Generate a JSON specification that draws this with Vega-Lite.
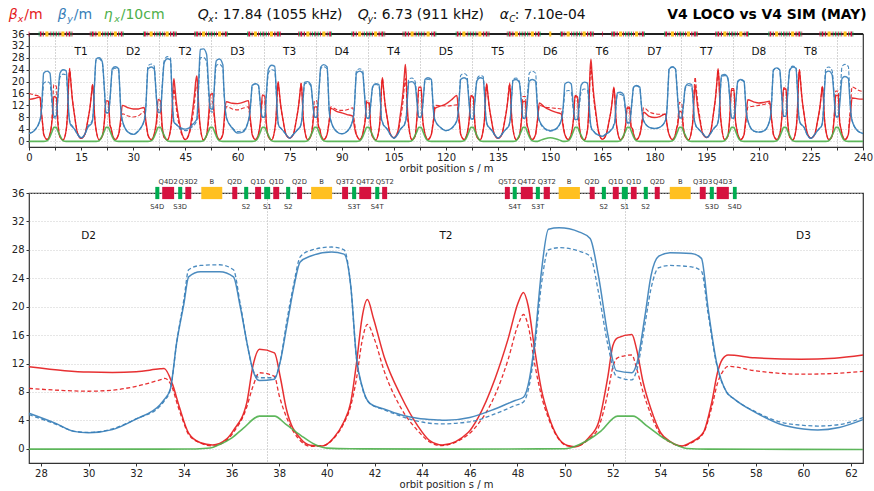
{"$schema":"https://vega.github.io/schema/vega-lite/v6.json","padding":{"left":8,"top":7,"right":0,"bottom":0},"bounds":"flush","spacing":46,"config":{"font":"DejaVu Sans","view":{"stroke":"#333","strokeWidth":1.2}},
"datasets":{
"hi":[{"s":-5.84,"t":"β","c":"bx"},{"s":8.26,"t":"β","c":"by"},{"s":21.5,"t":"η","c":"eta"}],
"hs":[{"s":-3.25,"t":"x","c":"bx"},{"s":11,"t":"y","c":"by"},{"s":24.5,"t":"x","c":"eta"}],
"hn":[{"s":-1.38,"t":"/m","c":"bx"},{"s":12.86,"t":"/m","c":"by"},{"s":26.4,"t":"/10cm","c":"eta"}],
"qi":[{"s":48.55,"t":"Q"},{"s":94.6,"t":"Q"},{"s":135.5,"t":"α"}],
"qs":[{"s":51.57,"t":"x"},{"s":97.5,"t":"y"},{"s":138.2,"t":"C"}],
"qn":[{"s":53.15,"t":": 17.84 (1055 kHz)"},{"s":98.9,"t":": 6.73 (911 kHz)"},{"s":139.8,"t":": 7.10e-04"}],
"cells":[{"s":15,"t":"T1"},{"s":30,"t":"D2"},{"s":45,"t":"T2"},{"s":60,"t":"D3"},{"s":75,"t":"T3"},{"s":90,"t":"D4"},{"s":105,"t":"T4"},{"s":120,"t":"D5"},{"s":135,"t":"T5"},{"s":150,"t":"D6"},{"s":165,"t":"T6"},{"s":180,"t":"D7"},{"s":195,"t":"T7"},{"s":210,"t":"D8"},{"s":225,"t":"T8"}],
"zcells":[{"s":30,"t":"D2"},{"s":45,"t":"T2"},{"s":60,"t":"D3"}],
"tb":[{"a":4.7,"b":5.6},{"a":9.3,"b":10.2},{"a":19.8,"b":20.7},{"a":24.4,"b":25.3},{"a":34.7,"b":35.6},{"a":39.3,"b":40.2},{"a":49.8,"b":50.7},{"a":54.4,"b":55.3},{"a":64.7,"b":65.6},{"a":69.3,"b":70.2},{"a":79.8,"b":80.7},{"a":84.4,"b":85.3},{"a":94.7,"b":95.6},{"a":99.3,"b":100.2},{"a":109.8,"b":110.7},{"a":114.4,"b":115.3},{"a":124.7,"b":125.6},{"a":129.3,"b":130.2},{"a":139.8,"b":140.7},{"a":144.4,"b":145.3},{"a":149.7,"b":150.3},{"a":154.7,"b":155.6},{"a":159.3,"b":160.2},{"a":169.8,"b":170.7},{"a":174.4,"b":175.3},{"a":184.7,"b":185.6},{"a":189.3,"b":190.2},{"a":199.8,"b":200.7},{"a":204.4,"b":205.3},{"a":214.7,"b":215.6},{"a":219.3,"b":220.2},{"a":229.8,"b":230.7},{"a":234.4,"b":235.3}],
"ts":[{"a":2.8,"b":3},{"a":3.8,"b":3.9},{"a":6.5,"b":6.7},{"a":7.4,"b":7.6},{"a":8.3,"b":8.5},{"a":11.1,"b":11.2},{"a":12,"b":12.2},{"a":17.8,"b":18},{"a":18.8,"b":18.9},{"a":21.5,"b":21.7},{"a":22.4,"b":22.6},{"a":23.3,"b":23.5},{"a":26.1,"b":26.2},{"a":27,"b":27.2},{"a":32.8,"b":33},{"a":33.8,"b":33.9},{"a":36.5,"b":36.7},{"a":37.4,"b":37.6},{"a":38.3,"b":38.5},{"a":41.1,"b":41.2},{"a":42,"b":42.2},{"a":47.8,"b":48},{"a":48.8,"b":48.9},{"a":51.5,"b":51.7},{"a":52.4,"b":52.6},{"a":53.3,"b":53.5},{"a":56.1,"b":56.2},{"a":57,"b":57.2},{"a":62.8,"b":63},{"a":63.8,"b":63.9},{"a":66.5,"b":66.7},{"a":67.4,"b":67.6},{"a":68.3,"b":68.5},{"a":71.1,"b":71.2},{"a":72,"b":72.2},{"a":77.8,"b":78},{"a":78.8,"b":78.9},{"a":81.5,"b":81.7},{"a":82.4,"b":82.6},{"a":83.3,"b":83.5},{"a":86.1,"b":86.2},{"a":87,"b":87.2},{"a":92.8,"b":93},{"a":93.8,"b":93.9},{"a":96.5,"b":96.7},{"a":97.4,"b":97.6},{"a":98.3,"b":98.5},{"a":101.1,"b":101.2},{"a":102,"b":102.2},{"a":107.8,"b":108},{"a":108.8,"b":108.9},{"a":111.5,"b":111.7},{"a":112.4,"b":112.6},{"a":113.3,"b":113.5},{"a":116.1,"b":116.2},{"a":117,"b":117.2},{"a":122.8,"b":123},{"a":123.8,"b":123.9},{"a":126.5,"b":126.7},{"a":127.4,"b":127.6},{"a":128.3,"b":128.5},{"a":131.1,"b":131.2},{"a":132,"b":132.2},{"a":137.8,"b":138},{"a":138.8,"b":138.9},{"a":141.5,"b":141.7},{"a":142.4,"b":142.6},{"a":143.3,"b":143.5},{"a":146.1,"b":146.2},{"a":147,"b":147.2},{"a":152.8,"b":153},{"a":153.8,"b":153.9},{"a":156.5,"b":156.7},{"a":157.4,"b":157.6},{"a":158.3,"b":158.5},{"a":161.1,"b":161.2},{"a":162,"b":162.2},{"a":167.8,"b":168},{"a":168.8,"b":168.9},{"a":171.5,"b":171.7},{"a":172.4,"b":172.6},{"a":173.3,"b":173.5},{"a":176.1,"b":176.2},{"a":177,"b":177.2},{"a":182.8,"b":183},{"a":183.8,"b":183.9},{"a":186.5,"b":186.7},{"a":187.4,"b":187.6},{"a":188.3,"b":188.5},{"a":191.1,"b":191.2},{"a":192,"b":192.2},{"a":197.8,"b":198},{"a":198.8,"b":198.9},{"a":201.5,"b":201.7},{"a":202.4,"b":202.6},{"a":203.3,"b":203.5},{"a":206.1,"b":206.2},{"a":207,"b":207.2},{"a":212.8,"b":213},{"a":213.8,"b":213.9},{"a":216.5,"b":216.7},{"a":217.4,"b":217.6},{"a":218.3,"b":218.5},{"a":221.1,"b":221.2},{"a":222,"b":222.2},{"a":227.8,"b":228},{"a":228.8,"b":228.9},{"a":231.5,"b":231.7},{"a":232.4,"b":232.6},{"a":233.3,"b":233.5},{"a":236.1,"b":236.2},{"a":237,"b":237.2}],
"tq":[{"a":-0.1,"b":0.1},{"a":3.1,"b":3.6},{"a":4.1,"b":4.3},{"a":6,"b":6.2},{"a":7,"b":7.2},{"a":7.8,"b":8},{"a":8.8,"b":9},{"a":10.6,"b":10.9},{"a":11.4,"b":11.9},{"a":12.3,"b":12.5},{"a":17.5,"b":17.7},{"a":18.1,"b":18.6},{"a":19.1,"b":19.4},{"a":21,"b":21.2},{"a":22,"b":22.2},{"a":22.8,"b":23},{"a":23.8,"b":24},{"a":25.7,"b":25.9},{"a":26.4,"b":26.9},{"a":33.1,"b":33.6},{"a":34.1,"b":34.3},{"a":36,"b":36.2},{"a":37,"b":37.2},{"a":37.8,"b":38},{"a":38.8,"b":39},{"a":40.6,"b":40.9},{"a":41.4,"b":41.9},{"a":42.3,"b":42.5},{"a":47.5,"b":47.7},{"a":48.1,"b":48.6},{"a":49.1,"b":49.4},{"a":51,"b":51.2},{"a":52,"b":52.2},{"a":52.8,"b":53},{"a":53.8,"b":54},{"a":55.7,"b":55.9},{"a":56.4,"b":56.9},{"a":63.1,"b":63.6},{"a":64.1,"b":64.3},{"a":66,"b":66.2},{"a":67,"b":67.2},{"a":67.8,"b":68},{"a":68.8,"b":69},{"a":70.6,"b":70.9},{"a":71.4,"b":71.9},{"a":72.3,"b":72.5},{"a":77.5,"b":77.7},{"a":78.1,"b":78.6},{"a":79.1,"b":79.4},{"a":81,"b":81.2},{"a":82,"b":82.2},{"a":82.8,"b":83},{"a":83.8,"b":84},{"a":85.7,"b":85.9},{"a":86.4,"b":86.9},{"a":93.1,"b":93.6},{"a":94.1,"b":94.3},{"a":96,"b":96.2},{"a":97,"b":97.2},{"a":97.8,"b":98},{"a":98.8,"b":99},{"a":100.6,"b":100.9},{"a":101.4,"b":101.9},{"a":102.3,"b":102.5},{"a":107.5,"b":107.7},{"a":108.1,"b":108.6},{"a":109.1,"b":109.4},{"a":111,"b":111.2},{"a":112,"b":112.2},{"a":112.8,"b":113},{"a":113.8,"b":114},{"a":115.7,"b":115.9},{"a":116.4,"b":116.9},{"a":123.1,"b":123.6},{"a":124.1,"b":124.3},{"a":126,"b":126.2},{"a":127,"b":127.2},{"a":127.8,"b":128},{"a":128.8,"b":129},{"a":130.6,"b":130.9},{"a":131.4,"b":131.9},{"a":132.3,"b":132.5},{"a":137.5,"b":137.7},{"a":138.1,"b":138.6},{"a":139.1,"b":139.4},{"a":141,"b":141.2},{"a":142,"b":142.2},{"a":142.8,"b":143},{"a":143.8,"b":144},{"a":145.7,"b":145.9},{"a":146.4,"b":146.9},{"a":153.1,"b":153.6},{"a":154.1,"b":154.3},{"a":156,"b":156.2},{"a":157,"b":157.2},{"a":157.8,"b":158},{"a":158.8,"b":159},{"a":160.6,"b":160.9},{"a":161.4,"b":161.9},{"a":162.3,"b":162.5},{"a":164.9,"b":165.1},{"a":167.5,"b":167.7},{"a":168.1,"b":168.6},{"a":169.1,"b":169.4},{"a":171,"b":171.2},{"a":172,"b":172.2},{"a":172.8,"b":173},{"a":173.8,"b":174},{"a":175.7,"b":175.9},{"a":176.4,"b":176.9},{"a":183.1,"b":183.6},{"a":184.1,"b":184.3},{"a":186,"b":186.2},{"a":187,"b":187.2},{"a":187.8,"b":188},{"a":188.8,"b":189},{"a":190.6,"b":190.9},{"a":191.4,"b":191.9},{"a":192.3,"b":192.5},{"a":197.5,"b":197.7},{"a":198.1,"b":198.6},{"a":199.1,"b":199.4},{"a":201,"b":201.2},{"a":202,"b":202.2},{"a":202.8,"b":203},{"a":203.8,"b":204},{"a":205.7,"b":205.9},{"a":206.4,"b":206.9},{"a":213.1,"b":213.6},{"a":214.1,"b":214.3},{"a":216,"b":216.2},{"a":217,"b":217.2},{"a":217.8,"b":218},{"a":218.8,"b":219},{"a":220.6,"b":220.9},{"a":221.4,"b":221.9},{"a":222.3,"b":222.5},{"a":227.5,"b":227.7},{"a":228.1,"b":228.6},{"a":229.1,"b":229.4},{"a":231,"b":231.2},{"a":232,"b":232.2},{"a":232.8,"b":233},{"a":233.8,"b":234},{"a":235.7,"b":235.9},{"a":236.4,"b":236.9}],
"lat":[{"a":32.8,"b":32.97,"c":32.88,"k":"S","n":"S4D"},{"a":33.09,"b":33.59,"c":33.34,"k":"Q","n":"Q4D2"},{"a":33.76,"b":33.93,"c":33.84,"k":"S","n":"S3D"},{"a":34.06,"b":34.31,"c":34.18,"k":"Q","n":"Q3D2"},{"a":34.73,"b":35.61,"c":35.17,"k":"B","n":"B"},{"a":36.03,"b":36.24,"c":36.13,"k":"Q","n":"Q2D"},{"a":36.53,"b":36.7,"c":36.61,"k":"S","n":"S2"},{"a":36.99,"b":37.24,"c":37.11,"k":"Q","n":"Q1D"},{"a":37.37,"b":37.62,"c":37.5,"k":"S","n":"S1"},{"a":37.75,"b":38,"c":37.88,"k":"Q","n":"Q1D"},{"a":38.29,"b":38.46,"c":38.38,"k":"S","n":"S2"},{"a":38.75,"b":38.96,"c":38.85,"k":"Q","n":"Q2D"},{"a":39.34,"b":40.22,"c":39.78,"k":"B","n":"B"},{"a":40.64,"b":40.89,"c":40.76,"k":"Q","n":"Q3T2"},{"a":41.06,"b":41.23,"c":41.14,"k":"S","n":"S3T"},{"a":41.36,"b":41.86,"c":41.61,"k":"Q","n":"Q4T2"},{"a":42.03,"b":42.2,"c":42.11,"k":"S","n":"S4T"},{"a":42.32,"b":42.53,"c":42.43,"k":"Q","n":"Q5T2"},{"a":47.47,"b":47.68,"c":47.57,"k":"Q","n":"Q5T2"},{"a":47.8,"b":47.97,"c":47.89,"k":"S","n":"S4T"},{"a":48.14,"b":48.64,"c":48.39,"k":"Q","n":"Q4T2"},{"a":48.77,"b":48.94,"c":48.86,"k":"S","n":"S3T"},{"a":49.1,"b":49.36,"c":49.23,"k":"Q","n":"Q3T2"},{"a":49.73,"b":50.62,"c":50.17,"k":"B","n":"B"},{"a":51.03,"b":51.24,"c":51.13,"k":"Q","n":"Q2D"},{"a":51.54,"b":51.71,"c":51.62,"k":"S","n":"S2"},{"a":52,"b":52.25,"c":52.12,"k":"Q","n":"Q1D"},{"a":52.38,"b":52.63,"c":52.5,"k":"S","n":"S1"},{"a":52.76,"b":53,"c":52.88,"k":"Q","n":"Q1D"},{"a":53.3,"b":53.47,"c":53.38,"k":"S","n":"S2"},{"a":53.76,"b":53.97,"c":53.87,"k":"Q","n":"Q2D"},{"a":54.39,"b":55.27,"c":54.83,"k":"B","n":"B"},{"a":55.65,"b":55.9,"c":55.77,"k":"Q","n":"Q3D3"},{"a":56.07,"b":56.24,"c":56.16,"k":"S","n":"S3D"},{"a":56.36,"b":56.87,"c":56.61,"k":"Q","n":"Q4D3"},{"a":57.04,"b":57.2,"c":57.12,"k":"S","n":"S4D"}],
"z1":[{"s":27.5,"v":11.55},{"s":29,"v":11},{"s":30,"v":10.8},{"s":31,"v":10.75},{"s":32,"v":10.85},{"s":33,"v":11.25},{"s":33.17,"v":11.3},{"s":33.52,"v":9.1},{"s":33.8,"v":6},{"s":34.2,"v":2.2},{"s":34.7,"v":0.85},{"s":35.2,"v":0.55},{"s":35.8,"v":1.4},{"s":36.08,"v":2.6},{"s":36.64,"v":6.5},{"s":36.9,"v":11.7},{"s":37.17,"v":14},{"s":37.8,"v":13.5},{"s":38.05,"v":10},{"s":38.3,"v":5.6},{"s":38.9,"v":1.4},{"s":39.3,"v":0.5},{"s":39.8,"v":0.4},{"s":40.3,"v":1.6},{"s":40.7,"v":3.7},{"s":41,"v":6.5},{"s":41.25,"v":12.2},{"s":41.47,"v":18.3},{"s":41.7,"v":21},{"s":41.96,"v":18.3},{"s":42.4,"v":13},{"s":43.1,"v":7.5},{"s":43.8,"v":3.3},{"s":44.3,"v":1.2},{"s":44.85,"v":0.55},{"s":45.93,"v":2.3},{"s":46.35,"v":4.4},{"s":47.05,"v":9.8},{"s":47.6,"v":15.4},{"s":48.03,"v":20.6},{"s":48.25,"v":22},{"s":48.45,"v":20.1},{"s":48.72,"v":14},{"s":49,"v":8.4},{"s":49.3,"v":4.7},{"s":49.7,"v":1.6},{"s":50.1,"v":0.45},{"s":50.4,"v":0.3},{"s":51,"v":1.6},{"s":51.4,"v":3.7},{"s":51.8,"v":10.3},{"s":52,"v":14.5},{"s":52.2,"v":15.6},{"s":52.8,"v":16.1},{"s":53,"v":14},{"s":53.27,"v":9.4},{"s":53.6,"v":5.6},{"s":54,"v":2.3},{"s":54.45,"v":0.95},{"s":54.9,"v":0.4},{"s":55.3,"v":0.95},{"s":55.8,"v":2.3},{"s":56.15,"v":6.5},{"s":56.4,"v":10.8},{"s":56.6,"v":12.6},{"s":56.84,"v":13.2},{"s":57.95,"v":12.8},{"s":59.9,"v":12.6},{"s":61.3,"v":12.75},{"s":62.5,"v":13.2}],
"z2":[{"s":27.5,"v":8.5},{"s":29,"v":8.2},{"s":30,"v":8.1},{"s":31,"v":8.25},{"s":32,"v":8.8},{"s":33,"v":9.7},{"s":33.2,"v":9.9},{"s":33.5,"v":8.7},{"s":33.75,"v":6},{"s":34,"v":3.6},{"s":34.2,"v":2},{"s":34.7,"v":0.8},{"s":35.2,"v":0.4},{"s":35.8,"v":1.2},{"s":36.1,"v":2.4},{"s":36.6,"v":5.5},{"s":36.9,"v":8.8},{"s":37.17,"v":10.7},{"s":37.8,"v":10.2},{"s":38,"v":7.5},{"s":38.3,"v":4.5},{"s":38.9,"v":1.1},{"s":39.3,"v":0.35},{"s":39.8,"v":0.4},{"s":40.3,"v":1.5},{"s":40.7,"v":3.5},{"s":41,"v":6},{"s":41.25,"v":10},{"s":41.47,"v":15},{"s":41.7,"v":17.5},{"s":42,"v":15.4},{"s":42.4,"v":11},{"s":43.1,"v":5.8},{"s":43.8,"v":2.6},{"s":44.3,"v":1},{"s":44.75,"v":0.45},{"s":45.93,"v":2},{"s":46.35,"v":3.5},{"s":47.05,"v":7.5},{"s":47.6,"v":12.5},{"s":48.03,"v":17.5},{"s":48.25,"v":18.9},{"s":48.45,"v":17.3},{"s":48.72,"v":12},{"s":49,"v":7.5},{"s":49.3,"v":4.3},{"s":49.7,"v":1.5},{"s":50.1,"v":0.4},{"s":50.4,"v":0.3},{"s":51,"v":1.4},{"s":51.4,"v":3},{"s":51.8,"v":8},{"s":52,"v":11.5},{"s":52.2,"v":12.8},{"s":52.8,"v":13.2},{"s":53,"v":11.3},{"s":53.27,"v":8},{"s":53.6,"v":4.8},{"s":54,"v":2},{"s":54.45,"v":0.85},{"s":54.9,"v":0.35},{"s":55.3,"v":0.85},{"s":55.8,"v":2.2},{"s":56.15,"v":5.8},{"s":56.4,"v":9.3},{"s":56.6,"v":10.8},{"s":56.84,"v":11.6},{"s":57.95,"v":11},{"s":59.9,"v":10.5},{"s":61.3,"v":10.6},{"s":62.5,"v":10.9}],
"z3":[{"s":27.5,"v":5},{"s":28.67,"v":3.5},{"s":29.37,"v":2.45},{"s":30,"v":2.25},{"s":31,"v":2.7},{"s":32,"v":4.2},{"s":33,"v":6.2},{"s":33.17,"v":6.9},{"s":33.43,"v":8.4},{"s":33.7,"v":15},{"s":34,"v":20.4},{"s":34.2,"v":24.2},{"s":34.7,"v":24.9},{"s":35.5,"v":24.9},{"s":36.08,"v":24.2},{"s":36.36,"v":20.1},{"s":36.7,"v":14},{"s":36.92,"v":10.8},{"s":37.17,"v":9.6},{"s":37.8,"v":9.8},{"s":38.04,"v":12.2},{"s":38.32,"v":17.3},{"s":38.6,"v":22.5},{"s":38.88,"v":26.3},{"s":39.3,"v":27.1},{"s":40.2,"v":27.7},{"s":40.72,"v":27.4},{"s":41,"v":23},{"s":41.25,"v":12.6},{"s":41.47,"v":8.9},{"s":41.8,"v":6.4},{"s":42.4,"v":5.6},{"s":43.1,"v":4.8},{"s":43.8,"v":4.3},{"s":44.75,"v":4.05},{"s":45,"v":4},{"s":46,"v":4.4},{"s":47.05,"v":5.6},{"s":47.9,"v":6.8},{"s":48.25,"v":7.25},{"s":48.5,"v":9.8},{"s":48.72,"v":15},{"s":49,"v":24.8},{"s":49.3,"v":30.9},{"s":49.75,"v":31.1},{"s":50.6,"v":30.5},{"s":51.05,"v":29.6},{"s":51.4,"v":24.3},{"s":51.8,"v":15.9},{"s":52.15,"v":11},{"s":52.8,"v":10.7},{"s":53,"v":11.9},{"s":53.35,"v":18.7},{"s":53.6,"v":24.3},{"s":53.93,"v":27.1},{"s":54.4,"v":27.6},{"s":55.3,"v":27.5},{"s":55.72,"v":26.8},{"s":56,"v":19.7},{"s":56.35,"v":12.2},{"s":56.77,"v":8},{"s":57.1,"v":7},{"s":58,"v":5.1},{"s":59,"v":3.5},{"s":60,"v":2.8},{"s":60.6,"v":2.65},{"s":61.5,"v":3},{"s":62.5,"v":4.1}],
"z4":[{"s":27.5,"v":4.8},{"s":28.67,"v":3.4},{"s":29.37,"v":2.5},{"s":30,"v":2.3},{"s":31,"v":2.8},{"s":32,"v":4.2},{"s":33,"v":6},{"s":33.17,"v":6.7},{"s":33.43,"v":8.3},{"s":33.7,"v":15},{"s":34,"v":21},{"s":34.2,"v":25.2},{"s":34.7,"v":25.8},{"s":35.5,"v":25.9},{"s":36.08,"v":25.2},{"s":36.36,"v":20.5},{"s":36.7,"v":14},{"s":36.92,"v":10.9},{"s":37.17,"v":10},{"s":37.8,"v":10},{"s":38.04,"v":12.3},{"s":38.32,"v":18},{"s":38.6,"v":23},{"s":38.88,"v":27},{"s":39.3,"v":27.9},{"s":40.2,"v":28.4},{"s":40.72,"v":28},{"s":41,"v":23},{"s":41.25,"v":12.5},{"s":41.47,"v":8.8},{"s":41.8,"v":6.4},{"s":42.4,"v":5.5},{"s":43.1,"v":4.6},{"s":43.8,"v":3.9},{"s":44.75,"v":3.5},{"s":46,"v":3.8},{"s":47.05,"v":4.9},{"s":47.9,"v":6.1},{"s":48.25,"v":6.6},{"s":48.5,"v":9},{"s":48.72,"v":14},{"s":49,"v":23},{"s":49.3,"v":28},{"s":49.75,"v":28.3},{"s":50.6,"v":27.8},{"s":51.05,"v":27.1},{"s":51.4,"v":22},{"s":51.8,"v":14.5},{"s":52.15,"v":10.2},{"s":52.8,"v":9.7},{"s":53,"v":11},{"s":53.35,"v":17.5},{"s":53.6,"v":22.5},{"s":53.93,"v":25.5},{"s":54.4,"v":25.8},{"s":55.3,"v":25.6},{"s":55.72,"v":25},{"s":56,"v":19},{"s":56.35,"v":12},{"s":56.77,"v":8},{"s":57.1,"v":7},{"s":58,"v":5.2},{"s":59,"v":3.8},{"s":60,"v":3.3},{"s":60.6,"v":3.2},{"s":61.5,"v":3.4},{"s":62.5,"v":4.4}],
"z5":[{"s":27.5,"v":-0.05},{"s":33,"v":-0.05},{"s":34.5,"v":-0.02},{"s":35.1,"v":0.1},{"s":35.5,"v":0.6},{"s":36,"v":1.5},{"s":36.5,"v":2.9},{"s":37.17,"v":4.6},{"s":37.8,"v":4.6},{"s":38.3,"v":3.4},{"s":38.9,"v":1.9},{"s":39.5,"v":0.6},{"s":40,"v":0.1},{"s":41,"v":0},{"s":45,"v":-0.05},{"s":50,"v":0},{"s":50.2,"v":0.1},{"s":50.6,"v":0.6},{"s":51,"v":1.3},{"s":51.5,"v":2.5},{"s":52.2,"v":4.6},{"s":52.85,"v":4.6},{"s":53.4,"v":3.3},{"s":54,"v":1.8},{"s":54.5,"v":0.8},{"s":55.1,"v":0.05},{"s":56,"v":-0.05},{"s":62.5,"v":-0.1}],
"top":[
{"s":0,"a":14,"b":16,"c":2.6,"d":2.5,"e":-0.1},{"s":1.5,"a":14.3,"b":15.5,"c":3.5,"d":3.5,"e":-0.1},{"s":3.15,"a":14.8,"b":15,"c":6.9,"d":7,"e":-0.1},{"s":3.6,"a":9.2,"b":9.2,"c":11,"d":10,"e":-0.1},{"s":4,"a":4.9,"b":4.9,"c":19.3,"d":16.4,"e":-0.1},{"s":4.2,"a":2.4,"b":2.4,"c":22.8,"d":19.4,"e":-0.1},{"s":5.2,"a":0.5,"b":0.5,"c":23.5,"d":20,"e":0.1},{"s":6.05,"a":2.4,"b":2.4,"c":22.8,"d":19.4,"e":1.5},{"s":6.35,"a":4.2,"b":4.2,"c":18.8,"d":16,"e":2.4},{"s":6.7,"a":7.5,"b":9.5,"c":13.2,"d":11.2,"e":3.4},{"s":7.15,"a":15,"b":19,"c":8.3,"d":7.8,"e":4.6},{"s":7.85,"a":14.6,"b":18.4,"c":8.3,"d":7.8,"e":4.6},{"s":8.3,"a":6,"b":7.6,"c":14.9,"d":14,"e":3.4},{"s":8.9,"a":1.4,"b":1.5,"c":22.8,"d":21.4,"e":1.9},{"s":9.8,"a":0.4,"b":0.4,"c":24,"d":22.5,"e":0.1},{"s":10.7,"a":3.7,"b":3.7,"c":23.6,"d":22.2,"e":-0.1},{"s":11.1,"a":9.6,"b":9.8,"c":17.3,"d":16.2,"e":-0.1},{"s":11.47,"a":20.9,"b":21.3,"c":9,"d":8.8,"e":-0.1},{"s":11.7,"a":24,"b":24.5,"c":6.5,"d":6.9,"e":-0.1},{"s":11.96,"a":20.9,"b":21.3,"c":5.5,"d":6,"e":-0.1},{"s":12.4,"a":14.9,"b":15.2,"c":4.9,"d":5.2,"e":-0.1},{"s":13.1,"a":8.6,"b":8.8,"c":4,"d":4.1,"e":-0.1},{"s":13.9,"a":2.9,"b":3,"c":2.4,"d":2.4,"e":-0.1},
{"s":15,"a":0.9,"b":0.9,"c":1.1,"d":1,"e":-0.1},{"s":16.1,"a":2.3,"b":2.3,"c":2.4,"d":2.3,"e":-0.1},{"s":16.9,"a":6.8,"b":6.8,"c":4.5,"d":5,"e":-0.1},{"s":17.6,"a":11.8,"b":11.8,"c":5.4,"d":5.9,"e":-0.1},{"s":18.04,"a":16.5,"b":16.5,"c":6,"d":6.5,"e":-0.1},{"s":18.3,"a":19,"b":19,"c":7,"d":7.5,"e":-0.1},{"s":18.53,"a":16.5,"b":16.5,"c":10.4,"d":10.2,"e":-0.1},{"s":18.9,"a":8,"b":8,"c":20.2,"d":19.9,"e":-0.1},{"s":19.3,"a":3.8,"b":3.8,"c":27.6,"d":27.2,"e":-0.1},{"s":20.2,"a":0.45,"b":0.45,"c":28,"d":27.6,"e":0.1},{"s":21.1,"a":1.6,"b":1.6,"c":26.6,"d":26.2,"e":1.9},{"s":21.7,"a":6.8,"b":6.6,"c":17.4,"d":17.1,"e":3.4},{"s":22.15,"a":13.5,"b":13.2,"c":9.5,"d":9.5,"e":4.6},{"s":22.85,"a":13.5,"b":13.2,"c":9.5,"d":9.5,"e":4.6},{"s":23.3,"a":5.4,"b":5.3,"c":14,"d":13.7,"e":3.4},{"s":23.65,"a":4.2,"b":4.2,"c":20,"d":19.6,"e":2.4},{"s":23.95,"a":2.4,"b":2.4,"c":24.3,"d":23.8,"e":1.5},{"s":24.8,"a":0.5,"b":0.5,"c":25,"d":24.5,"e":0.1},{"s":25.8,"a":2.3,"b":2.3,"c":24.3,"d":23.8,"e":-0.1},{"s":26,"a":4,"b":3,"c":20.5,"d":20.1,"e":-0.1},{"s":26.4,"a":7.4,"b":5.7,"c":11,"d":11,"e":-0.1},{"s":26.85,"a":12,"b":9.2,"c":6.9,"d":6.9,"e":-0.1},{"s":28.5,"a":11.2,"b":8.4,"c":3,"d":3,"e":-0.1},
{"s":30,"a":10.8,"b":8.1,"c":2.25,"d":2.3,"e":-0.1},{"s":31.5,"a":10.8,"b":8.5,"c":3.4,"d":3.5,"e":-0.1},{"s":33.15,"a":11.3,"b":9.9,"c":6.9,"d":6.8,"e":-0.1},{"s":33.6,"a":7,"b":6,"c":11,"d":11,"e":-0.1},{"s":34,"a":3.8,"b":3.4,"c":20.4,"d":21,"e":-0.1},{"s":34.2,"a":2.2,"b":2,"c":24.2,"d":25.2,"e":-0.1},{"s":35.2,"a":0.5,"b":0.4,"c":24.9,"d":25.9,"e":0.1},{"s":36.05,"a":2.4,"b":2.2,"c":24.2,"d":25.2,"e":1.5},{"s":36.35,"a":4.2,"b":3.8,"c":20.1,"d":20.5,"e":2.4},{"s":36.7,"a":7,"b":5.4,"c":14,"d":14,"e":3.4},{"s":37.15,"a":14,"b":10.7,"c":9.6,"d":10,"e":4.6},{"s":37.85,"a":13.5,"b":10.2,"c":9.8,"d":10,"e":4.6},{"s":38.3,"a":5.6,"b":4.5,"c":17.3,"d":18,"e":3.4},{"s":38.9,"a":1.4,"b":1.1,"c":26.3,"d":27,"e":1.9},{"s":39.8,"a":0.4,"b":0.4,"c":27.7,"d":28.4,"e":0.1},{"s":40.7,"a":3.7,"b":3.5,"c":27.3,"d":28,"e":-0.1},{"s":41.1,"a":8.4,"b":7,"c":17.6,"d":17,"e":-0.1},{"s":41.47,"a":18.3,"b":15,"c":8.9,"d":8.8,"e":-0.1},{"s":41.7,"a":21,"b":17.5,"c":6.4,"d":6.4,"e":-0.1},{"s":41.96,"a":18.3,"b":15.4,"c":6,"d":6,"e":-0.1},{"s":42.4,"a":13,"b":11,"c":5.6,"d":5.5,"e":-0.1},{"s":43.1,"a":7.5,"b":5.8,"c":4.8,"d":4.6,"e":-0.1},{"s":43.9,"a":3,"b":2.4,"c":4.3,"d":3.8,"e":-0.1},
{"s":45,"a":0.5,"b":0.45,"c":4,"d":3.5,"e":-0.1},{"s":46.1,"a":2.7,"b":2.3,"c":4.4,"d":3.9,"e":-0.1},{"s":46.9,"a":8.6,"b":6.6,"c":5.4,"d":4.7,"e":-0.1},{"s":47.6,"a":15.4,"b":12.5,"c":6.2,"d":5.4,"e":-0.1},{"s":48.04,"a":20.6,"b":17.6,"c":6.9,"d":6.2,"e":-0.1},{"s":48.3,"a":21.9,"b":18.8,"c":7.4,"d":6.7,"e":-0.1},{"s":48.53,"a":19,"b":16.3,"c":11.5,"d":10,"e":-0.1},{"s":48.9,"a":10,"b":9,"c":22,"d":20,"e":-0.1},{"s":49.3,"a":4.7,"b":4.3,"c":30.8,"d":28,"e":-0.1},{"s":50.2,"a":0.4,"b":0.35,"c":31,"d":28.1,"e":0.1},{"s":51.1,"a":2,"b":1.8,"c":29.2,"d":26.8,"e":1.9},{"s":51.7,"a":8.6,"b":6.8,"c":18,"d":16,"e":3.4},{"s":52.15,"a":15.4,"b":12.7,"c":11,"d":10.2,"e":4.6},{"s":52.85,"a":16,"b":13.2,"c":10.7,"d":9.7,"e":4.6},{"s":53.3,"a":9.2,"b":8,"c":17.5,"d":16.5,"e":3.4},{"s":53.65,"a":5.2,"b":4.5,"c":25,"d":23.2,"e":2.4},{"s":53.95,"a":2.5,"b":2.2,"c":27.1,"d":25.5,"e":1.5},{"s":54.8,"a":0.5,"b":0.45,"c":27.6,"d":25.8,"e":0.1},{"s":55.8,"a":2.3,"b":2.2,"c":25.6,"d":24.5,"e":-0.1},{"s":56,"a":4.8,"b":3.8,"c":19.7,"d":19,"e":-0.1},{"s":56.4,"a":10.8,"b":9,"c":11.8,"d":11.6,"e":-0.1},{"s":56.85,"a":13.2,"b":11.6,"c":7.7,"d":7.7,"e":-0.1},{"s":58.5,"a":12.7,"b":10.8,"c":4.3,"d":4.5,"e":-0.1},
{"s":60,"a":12.6,"b":10.5,"c":2.7,"d":3.2,"e":-0.1},{"s":61.5,"a":13,"b":11,"c":3,"d":3.4,"e":-0.1},{"s":63.15,"a":13.6,"b":11.5,"c":6.9,"d":6.9,"e":-0.1},{"s":63.6,"a":8.4,"b":7.1,"c":10,"d":10,"e":-0.1},{"s":64,"a":4.5,"b":3.8,"c":15.8,"d":15.7,"e":-0.1},{"s":64.2,"a":2.3,"b":2.3,"c":18.7,"d":18.6,"e":-0.1},{"s":65.2,"a":0.5,"b":0.5,"c":19.3,"d":19.2,"e":0.1},{"s":66.05,"a":2.4,"b":2.4,"c":18.7,"d":18.6,"e":1.5},{"s":66.35,"a":4.2,"b":4.2,"c":15.4,"d":15.4,"e":2.4},{"s":66.7,"a":7.8,"b":6.8,"c":10.8,"d":10.8,"e":3.4},{"s":67.15,"a":15.5,"b":13.5,"c":8,"d":8,"e":4.6},{"s":67.85,"a":15,"b":13.1,"c":8,"d":8,"e":4.6},{"s":68.3,"a":6.2,"b":5.4,"c":15.8,"d":14.9,"e":3.4},{"s":68.9,"a":1.4,"b":1.4,"c":24.2,"d":22.8,"e":1.9},{"s":69.8,"a":0.4,"b":0.4,"c":25.5,"d":24,"e":0.1},{"s":70.7,"a":3.7,"b":3.7,"c":25.1,"d":23.6,"e":-0.1},{"s":71.1,"a":8,"b":7.8,"c":18.4,"d":17.3,"e":-0.1},{"s":71.47,"a":17.4,"b":17,"c":9.4,"d":8.9,"e":-0.1},{"s":71.7,"a":20,"b":19.5,"c":6,"d":6,"e":-0.1},{"s":71.96,"a":17.4,"b":17,"c":5,"d":5,"e":-0.1},{"s":72.4,"a":12.4,"b":12.1,"c":4.4,"d":4.4,"e":-0.1},{"s":73.1,"a":7.2,"b":7,"c":3.5,"d":3.5,"e":-0.1},{"s":73.9,"a":2.4,"b":2.3,"c":2.3,"d":2.3,"e":-0.1},
{"s":75,"a":1,"b":1,"c":1,"d":1,"e":-0.1},{"s":76.1,"a":2.3,"b":2.3,"c":2.3,"d":2.3,"e":-0.1},{"s":76.9,"a":6.9,"b":7,"c":3.3,"d":3.3,"e":-0.1},{"s":77.6,"a":12,"b":12.1,"c":4.2,"d":4.2,"e":-0.1},{"s":78.04,"a":16.8,"b":17,"c":4.8,"d":4.8,"e":-0.1},{"s":78.3,"a":19.3,"b":19.5,"c":5.8,"d":5.8,"e":-0.1},{"s":78.53,"a":16.8,"b":17,"c":7.4,"d":7.2,"e":-0.1},{"s":78.9,"a":8.1,"b":8.2,"c":14.4,"d":14,"e":-0.1},{"s":79.3,"a":3.9,"b":3.9,"c":19.7,"d":19.2,"e":-0.1},{"s":80.2,"a":0.45,"b":0.45,"c":20,"d":19.5,"e":0.1},{"s":81.1,"a":1.6,"b":1.6,"c":19,"d":18.5,"e":1.9},{"s":81.7,"a":5.8,"b":6.8,"c":12.4,"d":12.1,"e":3.4},{"s":82.15,"a":11.5,"b":13.5,"c":8,"d":8,"e":4.6},{"s":82.85,"a":11.5,"b":13.5,"c":8,"d":8,"e":4.6},{"s":83.3,"a":4.6,"b":5.4,"c":14.4,"d":14,"e":3.4},{"s":83.65,"a":4.2,"b":4.2,"c":20.6,"d":20,"e":2.4},{"s":83.95,"a":2.4,"b":2.4,"c":24.9,"d":24.3,"e":1.5},{"s":84.8,"a":0.5,"b":0.5,"c":25.7,"d":25,"e":0.1},{"s":85.8,"a":2.3,"b":2.3,"c":24.9,"d":24.3,"e":-0.1},{"s":86,"a":3.6,"b":3.8,"c":21.1,"d":20.5,"e":-0.1},{"s":86.4,"a":6.8,"b":7.1,"c":10,"d":10,"e":-0.1},{"s":86.85,"a":11,"b":11.5,"c":6.9,"d":6.9,"e":-0.1},{"s":88.5,"a":10,"b":10.6,"c":3.2,"d":3.2,"e":-0.1},
{"s":90,"a":9.5,"b":10.3,"c":2.4,"d":2.5,"e":-0.1},{"s":91.5,"a":8.9,"b":10.5,"c":3.2,"d":3.2,"e":-0.1},{"s":93.15,"a":8.4,"b":11.2,"c":6.9,"d":6.9,"e":-0.1},{"s":93.6,"a":5.2,"b":6.9,"c":11,"d":11,"e":-0.1},{"s":94,"a":2.8,"b":3.7,"c":19.3,"d":19.9,"e":-0.1},{"s":94.2,"a":2.2,"b":2.3,"c":22.8,"d":23.6,"e":-0.1},{"s":95.2,"a":0.5,"b":0.5,"c":23.5,"d":24.3,"e":0.1},{"s":96.05,"a":2.4,"b":2.4,"c":22.8,"d":23.6,"e":1.5},{"s":96.35,"a":4.2,"b":4.2,"c":18.8,"d":19.4,"e":2.4},{"s":96.7,"a":6.5,"b":6.8,"c":13.2,"d":13.6,"e":3.4},{"s":97.15,"a":13,"b":13.5,"c":7.7,"d":7.7,"e":4.6},{"s":97.85,"a":12.6,"b":13.1,"c":7.7,"d":7.7,"e":4.6},{"s":98.3,"a":5.2,"b":5.4,"c":12,"d":11.8,"e":3.4},{"s":98.9,"a":1.4,"b":1.4,"c":18.3,"d":18,"e":1.9},{"s":99.8,"a":0.4,"b":0.4,"c":19.3,"d":19,"e":0.1},{"s":100.7,"a":3.7,"b":3.7,"c":19,"d":18.7,"e":-0.1},{"s":101.1,"a":8.5,"b":8.4,"c":13.9,"d":13.7,"e":-0.1},{"s":101.47,"a":18.5,"b":18.3,"c":7.1,"d":7,"e":-0.1},{"s":101.7,"a":21.3,"b":21,"c":6.5,"d":6.5,"e":-0.1},{"s":101.96,"a":18.5,"b":18.3,"c":5.5,"d":5.5,"e":-0.1},{"s":102.4,"a":13.2,"b":13,"c":4.9,"d":4.9,"e":-0.1},{"s":103.1,"a":7.7,"b":7.6,"c":4,"d":4,"e":-0.1},{"s":103.9,"a":2.6,"b":2.5,"c":2.3,"d":2.3,"e":-0.1},
{"s":105,"a":1.1,"b":1.1,"c":1,"d":1,"e":-0.1},{"s":106.1,"a":3.1,"b":2.5,"c":2.3,"d":2.3,"e":-0.1},{"s":106.9,"a":9.3,"b":7.6,"c":4,"d":4,"e":-0.1},{"s":107.6,"a":16,"b":13,"c":4.9,"d":4.9,"e":-0.1},{"s":108.04,"a":22.4,"b":18.3,"c":5.5,"d":5.5,"e":-0.1},{"s":108.3,"a":25.8,"b":21,"c":6.5,"d":6.5,"e":-0.1},{"s":108.53,"a":22.4,"b":18.3,"c":7.4,"d":7.8,"e":-0.1},{"s":108.9,"a":10.8,"b":8.8,"c":14.4,"d":15.3,"e":-0.1},{"s":109.3,"a":5.2,"b":4.2,"c":19.7,"d":20.9,"e":-0.1},{"s":110.2,"a":0.45,"b":0.45,"c":20,"d":21.2,"e":0.1},{"s":111.1,"a":1.6,"b":1.6,"c":19,"d":20.1,"e":1.9},{"s":111.7,"a":9,"b":8.5,"c":12.4,"d":13.1,"e":3.4},{"s":112.15,"a":18.1,"b":17,"c":8,"d":8,"e":4.6},{"s":112.85,"a":18.1,"b":17,"c":8,"d":8,"e":4.6},{"s":113.3,"a":7.2,"b":6.8,"c":11.9,"d":11.6,"e":3.4},{"s":113.65,"a":4.2,"b":4.2,"c":17,"d":16.6,"e":2.4},{"s":113.95,"a":2.4,"b":2.4,"c":20.7,"d":20.2,"e":1.5},{"s":114.8,"a":0.5,"b":0.5,"c":21.3,"d":20.8,"e":0.1},{"s":115.8,"a":2.3,"b":2.3,"c":20.7,"d":20.2,"e":-0.1},{"s":116,"a":3.6,"b":4,"c":17.5,"d":17.1,"e":-0.1},{"s":116.4,"a":6.8,"b":7.4,"c":10,"d":10,"e":-0.1},{"s":116.85,"a":11,"b":12,"c":6.9,"d":6.9,"e":-0.1},{"s":118.5,"a":11.8,"b":11.9,"c":4.5,"d":4.5,"e":-0.1},
{"s":120,"a":12.5,"b":11.8,"c":3.5,"d":3.5,"e":-0.1},{"s":121.5,"a":13.8,"b":11.9,"c":4.2,"d":4.2,"e":-0.1},{"s":123.15,"a":15.3,"b":12.2,"c":6.9,"d":6.9,"e":-0.1},{"s":123.6,"a":9.5,"b":7.6,"c":11,"d":11,"e":-0.1},{"s":124,"a":5,"b":4,"c":17.5,"d":18.6,"e":-0.1},{"s":124.2,"a":2.4,"b":2.3,"c":20.7,"d":22,"e":-0.1},{"s":125.2,"a":0.5,"b":0.5,"c":21.3,"d":22.7,"e":0.1},{"s":126.05,"a":2.4,"b":2.4,"c":20.7,"d":22,"e":1.5},{"s":126.35,"a":4.2,"b":4.2,"c":17,"d":18.2,"e":2.4},{"s":126.7,"a":7.6,"b":7.5,"c":11.9,"d":12.7,"e":3.4},{"s":127.15,"a":15.3,"b":15,"c":7.4,"d":7.4,"e":4.6},{"s":127.85,"a":14.8,"b":14.6,"c":7.4,"d":7.4,"e":4.6},{"s":128.3,"a":6.1,"b":6,"c":13.2,"d":13.6,"e":3.4},{"s":128.9,"a":1.4,"b":1.4,"c":20.2,"d":20.9,"e":1.9},{"s":129.8,"a":0.4,"b":0.4,"c":21.3,"d":22,"e":0.1},{"s":130.7,"a":3.7,"b":3.7,"c":21,"d":21.7,"e":-0.1},{"s":131.1,"a":7.7,"b":7.6,"c":15.3,"d":15.8,"e":-0.1},{"s":131.47,"a":16.8,"b":16.5,"c":7.9,"d":8.1,"e":-0.1},{"s":131.7,"a":19.3,"b":19,"c":6.2,"d":6.2,"e":-0.1},{"s":131.96,"a":16.8,"b":16.5,"c":5.2,"d":5.2,"e":-0.1},{"s":132.4,"a":12,"b":11.8,"c":4.6,"d":4.6,"e":-0.1},{"s":133.1,"a":6.9,"b":6.8,"c":3.7,"d":3.7,"e":-0.1},{"s":133.9,"a":2.3,"b":2.3,"c":2.3,"d":2.3,"e":-0.1},
{"s":135,"a":0.9,"b":0.9,"c":1,"d":1,"e":-0.1},{"s":136.1,"a":2.3,"b":2.3,"c":2.3,"d":2.3,"e":-0.1},{"s":136.9,"a":6.8,"b":7,"c":3.5,"d":3.5,"e":-0.1},{"s":137.6,"a":11.8,"b":12.1,"c":4.4,"d":4.4,"e":-0.1},{"s":138.04,"a":16.5,"b":17,"c":5,"d":5,"e":-0.1},{"s":138.3,"a":19,"b":19.5,"c":6,"d":6,"e":-0.1},{"s":138.53,"a":16.5,"b":17,"c":7.7,"d":7.8,"e":-0.1},{"s":138.9,"a":8,"b":8.2,"c":14.9,"d":15.3,"e":-0.1},{"s":139.3,"a":3.8,"b":3.9,"c":20.4,"d":20.9,"e":-0.1},{"s":140.2,"a":0.45,"b":0.45,"c":20.7,"d":21.2,"e":0.1},{"s":141.1,"a":1.6,"b":1.6,"c":19.7,"d":20.1,"e":1.9},{"s":141.7,"a":6.6,"b":7.5,"c":12.8,"d":13.1,"e":3.4},{"s":142.15,"a":13.3,"b":15,"c":7.7,"d":7.7,"e":4.6},{"s":142.85,"a":13.3,"b":15,"c":7.7,"d":7.7,"e":4.6},{"s":143.3,"a":5.3,"b":6,"c":11.6,"d":13.2,"e":3.4},{"s":143.65,"a":4.2,"b":4.2,"c":16.6,"d":18.8,"e":2.4},{"s":143.95,"a":2.4,"b":2.4,"c":20.1,"d":22.8,"e":1.5},{"s":144.8,"a":0.5,"b":0.5,"c":20.7,"d":23.5,"e":0.1},{"s":145.8,"a":2.3,"b":2.3,"c":20.1,"d":22.8,"e":-0.1},{"s":146,"a":4.2,"b":4,"c":17,"d":19.3,"e":-0.1},{"s":146.4,"a":7.9,"b":7.4,"c":10,"d":10,"e":-0.1},{"s":146.85,"a":12.8,"b":12,"c":6.9,"d":6.9,"e":0.1},{"s":148.5,"a":11.3,"b":11.4,"c":4.2,"d":4,"e":0.8},
{"s":150,"a":10.4,"b":11.2,"c":3.5,"d":3.3,"e":1.1},{"s":151.5,"a":9.7,"b":11,"c":4,"d":3.9,"e":0.8},{"s":153.15,"a":9.1,"b":10.8,"c":6.9,"d":6.9,"e":0.1},{"s":153.6,"a":5.6,"b":6.7,"c":10,"d":9.5,"e":-0.1},{"s":154,"a":3,"b":3.6,"c":16.2,"d":13.9,"e":-0.1},{"s":154.2,"a":2.2,"b":2.3,"c":19.2,"d":16.5,"e":-0.1},{"s":155.2,"a":0.5,"b":0.5,"c":19.8,"d":17,"e":0.1},{"s":156.05,"a":2.4,"b":2.4,"c":19.2,"d":16.5,"e":1.5},{"s":156.35,"a":4.2,"b":4.2,"c":15.8,"d":13.6,"e":2.4},{"s":156.7,"a":7.6,"b":7.5,"c":11.1,"d":9.5,"e":3.4},{"s":157.15,"a":15.3,"b":15,"c":7.2,"d":7.2,"e":4.6},{"s":157.85,"a":14.8,"b":14.6,"c":7.2,"d":7.2,"e":4.6},{"s":158.3,"a":6.1,"b":6,"c":12.3,"d":10.9,"e":3.4},{"s":158.9,"a":1.4,"b":1.4,"c":18.8,"d":16.6,"e":1.9},{"s":159.8,"a":0.4,"b":0.4,"c":19.8,"d":17.5,"e":0.1},{"s":160.7,"a":3.7,"b":3.7,"c":19.5,"d":17.2,"e":-0.1},{"s":161.1,"a":11,"b":10,"c":14.3,"d":12.6,"e":-0.1},{"s":161.47,"a":23.9,"b":21.8,"c":7.3,"d":6.5,"e":-0.1},{"s":161.7,"a":27.5,"b":25,"c":5,"d":5,"e":-0.1},{"s":161.96,"a":23.9,"b":21.8,"c":4,"d":4,"e":-0.1},{"s":162.4,"a":17,"b":15.5,"c":3.4,"d":3.4,"e":-0.1},{"s":163.1,"a":9.9,"b":9,"c":2.5,"d":2.5,"e":-0.1},{"s":163.9,"a":3.3,"b":3,"c":2,"d":2,"e":-0.1},
{"s":165,"a":0.6,"b":0.6,"c":1.6,"d":1.6,"e":-0.1},{"s":166.1,"a":2.2,"b":2.2,"c":2.4,"d":2.4,"e":-0.1},{"s":166.9,"a":6.5,"b":6.5,"c":3,"d":3,"e":-0.1},{"s":167.6,"a":11.2,"b":11.2,"c":3.9,"d":3.9,"e":-0.1},{"s":168.04,"a":15.7,"b":15.7,"c":4.5,"d":4.5,"e":-0.1},{"s":168.3,"a":18.1,"b":18,"c":5.5,"d":5.5,"e":-0.1},{"s":168.53,"a":15.7,"b":15.7,"c":6,"d":5.8,"e":-0.1},{"s":168.9,"a":7.6,"b":7.6,"c":11.8,"d":11.3,"e":-0.1},{"s":169.3,"a":3.6,"b":3.6,"c":16.2,"d":15.5,"e":-0.1},{"s":170.2,"a":0.45,"b":0.45,"c":16.4,"d":15.7,"e":0.1},{"s":171.1,"a":1.6,"b":1.6,"c":15.6,"d":14.9,"e":1.9},{"s":171.7,"a":5.7,"b":5.5,"c":10.2,"d":9.7,"e":3.4},{"s":172.15,"a":11.4,"b":11,"c":6.1,"d":6.1,"e":4.6},{"s":172.85,"a":11.4,"b":11,"c":6.1,"d":6.1,"e":4.6},{"s":173.3,"a":4.6,"b":4.4,"c":10.5,"d":10.4,"e":3.4},{"s":173.65,"a":4.2,"b":4.2,"c":15,"d":14.8,"e":2.4},{"s":173.95,"a":2.4,"b":2.4,"c":18.1,"d":17.9,"e":1.5},{"s":174.8,"a":0.5,"b":0.5,"c":18.7,"d":18.5,"e":0.1},{"s":175.8,"a":2.3,"b":2.3,"c":18.1,"d":17.9,"e":-0.1},{"s":176,"a":3.2,"b":3.7,"c":15.3,"d":15.2,"e":-0.1},{"s":176.4,"a":6,"b":6.9,"c":10,"d":10,"e":-0.1},{"s":176.85,"a":9.7,"b":11.2,"c":6.9,"d":6.9,"e":-0.1},{"s":178.5,"a":8.3,"b":9.8,"c":4.6,"d":4.6,"e":-0.1},
{"s":180,"a":7.9,"b":9.2,"c":4.2,"d":4.2,"e":-0.1},{"s":181.5,"a":8.2,"b":9,"c":4.6,"d":4.6,"e":-0.1},{"s":183.15,"a":9.1,"b":9,"c":6.9,"d":6.9,"e":-0.1},{"s":183.6,"a":5.6,"b":5.6,"c":11,"d":11,"e":-0.1},{"s":184,"a":3,"b":3,"c":20.4,"d":20.5,"e":-0.1},{"s":184.2,"a":2.2,"b":2.2,"c":24.2,"d":24.3,"e":-0.1},{"s":185.2,"a":0.5,"b":0.5,"c":24.9,"d":25,"e":0.1},{"s":186.05,"a":2.4,"b":2.4,"c":24.2,"d":24.3,"e":1.5},{"s":186.35,"a":4.2,"b":4.2,"c":19.9,"d":20,"e":2.4},{"s":186.7,"a":5.5,"b":6.5,"c":13.9,"d":14,"e":3.4},{"s":187.15,"a":10,"b":13,"c":7.7,"d":8,"e":4.6},{"s":187.85,"a":9.7,"b":12.6,"c":7.7,"d":8,"e":4.6},{"s":188.3,"a":4,"b":5.2,"c":12,"d":11.6,"e":3.4},{"s":188.9,"a":1.4,"b":1.4,"c":18.3,"d":17.8,"e":1.9},{"s":189.8,"a":0.4,"b":0.4,"c":19.3,"d":18.7,"e":0.1},{"s":190.7,"a":3.7,"b":3.7,"c":19,"d":18.4,"e":-0.1},{"s":191.1,"a":7.5,"b":8.6,"c":13.9,"d":13.5,"e":-0.1},{"s":191.47,"a":16.3,"b":18.7,"c":7.1,"d":6.9,"e":-0.1},{"s":191.7,"a":18.7,"b":21.5,"c":6,"d":6,"e":-0.1},{"s":191.96,"a":16.3,"b":18.7,"c":5,"d":5,"e":-0.1},{"s":192.4,"a":11.6,"b":13.3,"c":4.4,"d":4.4,"e":-0.1},{"s":193.1,"a":6.7,"b":7.7,"c":3.5,"d":3.5,"e":-0.1},{"s":193.9,"a":2.4,"b":2.6,"c":2.5,"d":2.5,"e":-0.1},
{"s":195,"a":1.2,"b":1.2,"c":1.2,"d":1.2,"e":-0.1},{"s":196.1,"a":2.9,"b":2.9,"c":2.5,"d":2.5,"e":-0.1},{"s":196.9,"a":8.7,"b":8.6,"c":4,"d":4,"e":-0.1},{"s":197.6,"a":15.1,"b":14.9,"c":4.9,"d":4.9,"e":-0.1},{"s":198.04,"a":21.1,"b":20.9,"c":5.5,"d":5.5,"e":-0.1},{"s":198.3,"a":24.3,"b":24,"c":6.5,"d":6.5,"e":-0.1},{"s":198.53,"a":21.1,"b":20.9,"c":8.3,"d":8.1,"e":-0.1},{"s":198.9,"a":10.2,"b":10.1,"c":16.1,"d":15.8,"e":-0.1},{"s":199.3,"a":4.9,"b":4.8,"c":22.1,"d":21.7,"e":-0.1},{"s":200.2,"a":0.45,"b":0.45,"c":22.4,"d":22,"e":0.1},{"s":201.1,"a":1.6,"b":1.6,"c":21.3,"d":20.9,"e":1.9},{"s":201.7,"a":8.8,"b":8.5,"c":13.9,"d":13.6,"e":3.4},{"s":202.15,"a":17.6,"b":17,"c":7.7,"d":7.7,"e":4.6},{"s":202.85,"a":17.6,"b":17,"c":7.7,"d":7.7,"e":4.6},{"s":203.3,"a":7,"b":6.8,"c":11.6,"d":11.5,"e":3.4},{"s":203.65,"a":4.2,"b":4.2,"c":16.6,"d":16.4,"e":2.4},{"s":203.95,"a":2.4,"b":2.4,"c":20.1,"d":19.9,"e":1.5},{"s":204.8,"a":0.5,"b":0.5,"c":20.7,"d":20.5,"e":0.1},{"s":205.8,"a":2.3,"b":2.3,"c":20.1,"d":19.9,"e":-0.1},{"s":206,"a":4.6,"b":3.8,"c":17,"d":16.8,"e":-0.1},{"s":206.4,"a":8.6,"b":7.1,"c":10,"d":10,"e":-0.1},{"s":206.85,"a":13.9,"b":11.4,"c":6.9,"d":6.9,"e":-0.1},{"s":208.5,"a":13.2,"b":11.7,"c":3.4,"d":3.4,"e":-0.1},
{"s":210,"a":12.8,"b":12,"c":3,"d":3,"e":-0.1},{"s":211.5,"a":13,"b":12.3,"c":3.4,"d":3.4,"e":-0.1},{"s":213.15,"a":13.4,"b":12.8,"c":6.9,"d":6.9,"e":-0.1},{"s":213.6,"a":8.3,"b":7.9,"c":11,"d":11,"e":-0.1},{"s":214,"a":4.4,"b":4.2,"c":20.2,"d":20.1,"e":-0.1},{"s":214.2,"a":2.3,"b":2.3,"c":23.9,"d":23.8,"e":-0.1},{"s":215.2,"a":0.5,"b":0.5,"c":24.6,"d":24.5,"e":0.1},{"s":216.05,"a":2.4,"b":2.4,"c":23.9,"d":23.8,"e":1.5},{"s":216.35,"a":4.2,"b":4.2,"c":19.7,"d":19.6,"e":2.4},{"s":216.7,"a":9,"b":8.8,"c":13.8,"d":13.7,"e":3.4},{"s":217.15,"a":17.9,"b":17.5,"c":8.3,"d":8.3,"e":4.6},{"s":217.85,"a":17.4,"b":17,"c":8.3,"d":8.3,"e":4.6},{"s":218.3,"a":7.2,"b":7,"c":15.4,"d":15.6,"e":3.4},{"s":218.9,"a":1.4,"b":1.4,"c":23.7,"d":23.9,"e":1.9},{"s":219.8,"a":0.4,"b":0.4,"c":24.9,"d":25.2,"e":0.1},{"s":220.7,"a":3.7,"b":3.7,"c":24.5,"d":24.8,"e":-0.1},{"s":221.1,"a":9.6,"b":9.6,"c":17.9,"d":18.1,"e":-0.1},{"s":221.47,"a":20.9,"b":20.9,"c":9.2,"d":9.3,"e":-0.1},{"s":221.7,"a":24,"b":24,"c":7,"d":7,"e":-0.1},{"s":221.96,"a":20.9,"b":20.9,"c":6,"d":6,"e":-0.1},{"s":222.4,"a":14.9,"b":14.9,"c":5.4,"d":5.4,"e":-0.1},{"s":223.1,"a":8.6,"b":8.6,"c":4.5,"d":4.5,"e":-0.1},{"s":223.9,"a":2.9,"b":2.9,"c":2.2,"d":2.2,"e":-0.1},
{"s":225,"a":1,"b":1,"c":0.9,"d":0.9,"e":-0.1},{"s":226.1,"a":2.2,"b":2.2,"c":2.2,"d":2.2,"e":-0.1},{"s":226.9,"a":6.6,"b":6.6,"c":3.5,"d":3.5,"e":-0.1},{"s":227.6,"a":11.4,"b":11.4,"c":4.4,"d":4.4,"e":-0.1},{"s":228.04,"a":16,"b":16,"c":5,"d":5,"e":-0.1},{"s":228.3,"a":18.4,"b":18.4,"c":6,"d":6,"e":-0.1},{"s":228.53,"a":16,"b":16,"c":8.7,"d":9.2,"e":-0.1},{"s":228.9,"a":7.7,"b":7.7,"c":16.9,"d":17.9,"e":-0.1},{"s":229.3,"a":3.7,"b":3.7,"c":23.1,"d":24.5,"e":-0.1},{"s":230.2,"a":0.45,"b":0.45,"c":23.5,"d":24.9,"e":0.1},{"s":231.1,"a":1.6,"b":1.6,"c":22.3,"d":23.7,"e":1.9},{"s":231.7,"a":7.6,"b":8.4,"c":14.6,"d":15.4,"e":3.4},{"s":232.15,"a":15.3,"b":16.8,"c":8.3,"d":8,"e":4.6},{"s":232.85,"a":15.3,"b":16.8,"c":8.3,"d":8,"e":4.6},{"s":233.3,"a":6.1,"b":6.7,"c":12.2,"d":14.4,"e":3.4},{"s":233.65,"a":4.2,"b":4.2,"c":17.4,"d":20.6,"e":2.4},{"s":233.95,"a":2.4,"b":2.4,"c":21,"d":25,"e":1.5},{"s":234.8,"a":0.5,"b":0.5,"c":21.7,"d":25.8,"e":0.1},{"s":235.8,"a":2.3,"b":2.3,"c":21,"d":25,"e":-0.1},{"s":236,"a":4.8,"b":6,"c":17.8,"d":21.2,"e":-0.1},{"s":236.4,"a":9,"b":11.3,"c":11,"d":11,"e":-0.1},{"s":236.85,"a":14.5,"b":18.2,"c":6.9,"d":6.9,"e":-0.1},{"s":238.5,"a":14.2,"b":17.2,"c":3.4,"d":3.4,"e":-0.1},{"s":240,"a":14.1,"b":16.6,"c":2.6,"d":2.5,"e":-0.1}]
},
"vconcat":[
{"width":834,"height":113,"data":{"name":"top"},
"encoding":{"x":{"field":"s","type":"quantitative","scale":{"domain":[0,240],"nice":false},"axis":{"tickCount":40,"values":[0,7.5,15,22.5,30,37.5,45,52.5,60,67.5,75,82.5,90,97.5,105,112.5,120,127.5,135,142.5,150,157.5,165,172.5,180,187.5,195,202.5,210,217.5,225,232.5,240],"labelExpr":"datum.value%15==0?format(datum.value,'d'):''","title":"orbit position s / m","titleFontWeight":"normal","titleFontSize":10,"titleColor":"#222","titlePadding":1,"labelFontSize":10,"labelColor":"#222","labelPadding":2,"labelOverlap":false,"labelFlush":false,"domain":false,"tickColor":"#333","tickSize":3,"grid":true,"gridDash":[1,2],"gridColor":"#aaa","gridOpacity":{"condition":{"test":"datum.value%15==0","value":0},"value":1}}}},
"layer":[
{"mark":{"type":"line","color":"#e41a1c","strokeDash":[4,2],"strokeWidth":1.1,"opacity":0.9,"interpolate":"monotone"},"encoding":{"y":{"field":"b","type":"quantitative","scale":{"domain":[-2,36],"nice":false},"axis":{"tickCount":12,"values":[0,4,8,12,16,20,24,28,32,36],"title":null,"labelFontSize":10,"labelColor":"#222","labelPadding":2,"labelOverlap":false,"labelFlush":false,"labelBound":false,"domain":false,"tickColor":"#333","tickSize":3,"grid":true,"gridDash":[1,2],"gridColor":"#ccc"}}}},
{"mark":{"type":"line","color":"#e41a1c","strokeWidth":1.4,"opacity":0.9,"interpolate":"monotone"},"encoding":{"y":{"field":"a","type":"quantitative"}}},
{"mark":{"type":"line","color":"#377eb8","strokeDash":[4,2],"strokeWidth":1.1,"opacity":0.9,"interpolate":"monotone"},"encoding":{"y":{"field":"d","type":"quantitative"}}},
{"mark":{"type":"line","color":"#377eb8","strokeWidth":1.4,"opacity":0.9,"interpolate":"monotone"},"encoding":{"y":{"field":"c","type":"quantitative"}}},
{"mark":{"type":"line","color":"#4daf4a","strokeWidth":1.6,"opacity":0.9,"interpolate":"monotone"},"encoding":{"y":{"field":"e","type":"quantitative"}}},
{"mark":{"type":"rule","color":"#222","strokeWidth":1.4},"encoding":{"x":{"datum":0},"x2":{"datum":240},"y":{"datum":36}}},
{"data":{"name":"tq"},"mark":{"type":"rect","color":"#d6123f"},"encoding":{"x":{"field":"a","type":"quantitative"},"x2":{"field":"b"},"y":{"datum":35.15},"y2":{"datum":36.85}}},
{"data":{"name":"ts"},"mark":{"type":"rect","color":"#00ac50"},"encoding":{"x":{"field":"a","type":"quantitative"},"x2":{"field":"b"},"y":{"datum":35.15},"y2":{"datum":36.85}}},
{"data":{"name":"tb"},"mark":{"type":"rect","color":"#ffc020"},"encoding":{"x":{"field":"a","type":"quantitative"},"x2":{"field":"b"},"y":{"datum":35.15},"y2":{"datum":36.85}}},
{"data":{"name":"cells"},"mark":{"type":"text","fontSize":10.5,"color":"#111"},"encoding":{"x":{"field":"s","type":"quantitative"},"y":{"datum":30},"text":{"field":"t"}}},
{"data":{"name":"hi"},"mark":{"type":"text","fontSize":14,"fontStyle":"italic","align":"left","baseline":"alphabetic"},"encoding":{"x":{"field":"s","type":"quantitative"},"y":{"datum":40.9},"text":{"field":"t"},"color":{"field":"c","scale":{"domain":["bx","by","eta"],"range":["#e41a1c","#377eb8","#4daf4a"]},"legend":null}}},
{"data":{"name":"hs"},"mark":{"type":"text","fontSize":9.5,"fontStyle":"italic","align":"left","baseline":"alphabetic"},"encoding":{"x":{"field":"s","type":"quantitative"},"y":{"datum":40},"text":{"field":"t"},"color":{"field":"c","legend":null}}},
{"data":{"name":"hn"},"mark":{"type":"text","fontSize":14,"align":"left","baseline":"alphabetic"},"encoding":{"x":{"field":"s","type":"quantitative"},"y":{"datum":40.9},"text":{"field":"t"},"color":{"field":"c","legend":null}}},
{"data":{"name":"qi"},"mark":{"type":"text","fontSize":14,"fontStyle":"italic","align":"left","baseline":"alphabetic","color":"#111"},"encoding":{"x":{"field":"s","type":"quantitative"},"y":{"datum":40.9},"text":{"field":"t"}}},
{"data":{"name":"qs"},"mark":{"type":"text","fontSize":9,"fontStyle":"italic","align":"left","baseline":"alphabetic","color":"#111"},"encoding":{"x":{"field":"s","type":"quantitative"},"y":{"datum":40},"text":{"field":"t"}}},
{"data":{"name":"qn"},"mark":{"type":"text","fontSize":13.8,"align":"left","baseline":"alphabetic","color":"#111"},"encoding":{"x":{"field":"s","type":"quantitative"},"y":{"datum":40.9},"text":{"field":"t"}}},
{"data":{"values":[{"s":241.06,"t":"V4 LOCO vs V4 SIM (MAY)"}]},"mark":{"type":"text","fontSize":13.9,"fontWeight":"bold","align":"right","baseline":"alphabetic","color":"#000"},"encoding":{"x":{"field":"s","type":"quantitative"},"y":{"datum":40.9},"text":{"field":"t"}}}
]},
{"width":834,"height":270,
"encoding":{"x":{"field":"s","type":"quantitative","scale":{"domain":[27.5,62.5],"nice":false},"axis":{"tickCount":40,"values":[28,30,32,34,36,37.5,38,40,42,44,46,48,50,52,52.5,54,56,58,60,62],"labelExpr":"datum.value%2==0?format(datum.value,'d'):''","title":"orbit position s / m","titleFontWeight":"normal","titleFontSize":10,"titleColor":"#222","titlePadding":1,"labelFontSize":10,"labelColor":"#222","labelPadding":2,"labelOverlap":false,"labelFlush":false,"domain":false,"tickColor":"#333","tickSize":3,"tickOpacity":{"condition":{"test":"datum.value%2==0","value":1},"value":0},"grid":true,"gridDash":[1,2],"gridColor":"#aaa","gridOpacity":{"condition":{"test":"datum.value%2==0","value":0},"value":1}}}},
"layer":[
{"data":{"name":"z2"},"mark":{"type":"line","color":"#e41a1c","strokeDash":[4,2.5],"strokeWidth":1.3,"opacity":0.9,"interpolate":"monotone"},"encoding":{"y":{"field":"v","type":"quantitative","scale":{"domain":[-2,36],"nice":false},"axis":{"tickCount":12,"values":[0,4,8,12,16,20,24,28,32,36],"title":null,"labelFontSize":10,"labelColor":"#222","labelPadding":2,"labelOverlap":false,"labelFlush":false,"labelBound":false,"domain":false,"tickColor":"#333","tickSize":3,"grid":true,"gridDash":[1,2],"gridColor":"#ccc"}}}},
{"data":{"name":"z1"},"mark":{"type":"line","color":"#e41a1c","strokeWidth":1.5,"opacity":0.9,"interpolate":"monotone"},"encoding":{"y":{"field":"v","type":"quantitative"}}},
{"data":{"name":"z4"},"mark":{"type":"line","color":"#377eb8","strokeDash":[4,2.5],"strokeWidth":1.3,"opacity":0.9,"interpolate":"monotone"},"encoding":{"y":{"field":"v","type":"quantitative"}}},
{"data":{"name":"z3"},"mark":{"type":"line","color":"#377eb8","strokeWidth":1.5,"opacity":0.9,"interpolate":"monotone"},"encoding":{"y":{"field":"v","type":"quantitative"}}},
{"data":{"name":"z5"},"mark":{"type":"line","color":"#4daf4a","strokeWidth":1.6,"opacity":0.9,"interpolate":"monotone"},"encoding":{"y":{"field":"v","type":"quantitative"}}},
{"mark":{"type":"rule","color":"#666","strokeWidth":2},"encoding":{"x":{"datum":27.5},"x2":{"datum":62.5},"y":{"datum":36}}},
{"data":{"name":"lat"},"transform":[{"filter":{"field":"k","equal":"Q"}}],"mark":{"type":"rect","color":"#d6123f"},"encoding":{"x":{"field":"a","type":"quantitative"},"x2":{"field":"b"},"y":{"datum":35.14},"y2":{"datum":36.86}}},
{"data":{"name":"lat"},"transform":[{"filter":{"field":"k","equal":"S"}}],"mark":{"type":"rect","color":"#00ac50"},"encoding":{"x":{"field":"a","type":"quantitative"},"x2":{"field":"b"},"y":{"datum":35.14},"y2":{"datum":36.86}}},
{"data":{"name":"lat"},"transform":[{"filter":{"field":"k","equal":"B"}}],"mark":{"type":"rect","color":"#ffc020"},"encoding":{"x":{"field":"a","type":"quantitative"},"x2":{"field":"b"},"y":{"datum":35.14},"y2":{"datum":36.86}}},
{"data":{"name":"lat"},"transform":[{"filter":{"field":"k","oneOf":["Q","B"]}}],"mark":{"type":"text","fontSize":6.8,"color":"#333"},"encoding":{"x":{"field":"c","type":"quantitative"},"y":{"datum":37.5},"text":{"field":"n"}}},
{"data":{"name":"lat"},"transform":[{"filter":{"field":"k","equal":"S"}}],"mark":{"type":"text","fontSize":6.8,"color":"#333"},"encoding":{"x":{"field":"c","type":"quantitative"},"y":{"datum":34.1},"text":{"field":"n"}}},
{"data":{"name":"zcells"},"mark":{"type":"text","fontSize":10.5,"color":"#111"},"encoding":{"x":{"field":"s","type":"quantitative"},"y":{"datum":30},"text":{"field":"t"}}}
]}
]}
